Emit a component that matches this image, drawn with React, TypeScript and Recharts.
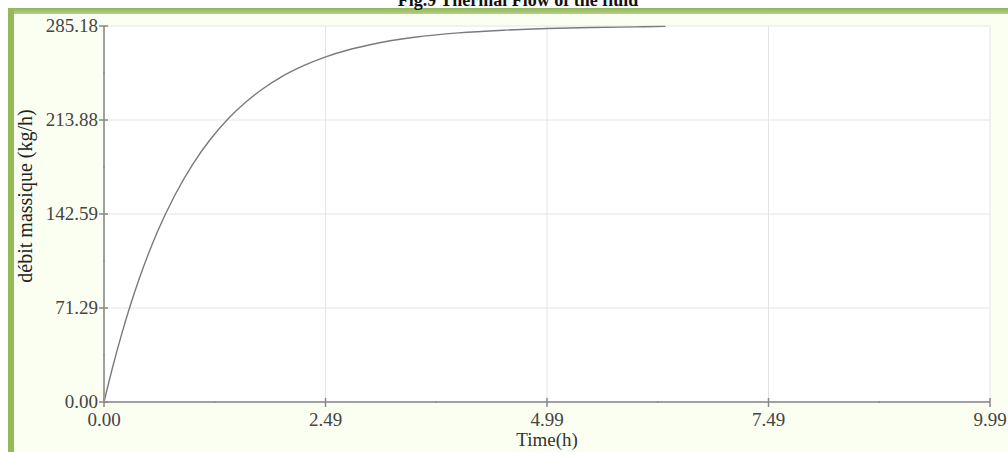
import React from 'react';
import { LineChart, Line, XAxis, YAxis, CartesianGrid } from 'recharts';

// time in hours, mass flow in kg/h
const times = [0, 0.1, 0.2, 0.3, 0.4, 0.5, 0.6, 0.8, 1.0, 1.2, 1.4, 1.6, 1.8, 2.0, 2.25, 2.5, 2.75, 3.0, 3.5, 4.0, 4.5, 5.0, 5.5, 6.0, 6.33];
const flow = [0, 27.1, 51.7, 73.9, 94.0, 112.2, 128.7, 157.0, 180.3, 199.3, 214.9, 227.6, 238.0, 246.6, 255.1, 261.8, 267.0, 271.0, 276.6, 280.0, 282.0, 283.3, 284.0, 284.5, 284.9];

const xMajor = [0, 2.4975, 4.995, 7.4925, 9.99];
const xLabels = ['0.00', '2.49', '4.99', '7.49', '9.99'];
const xMinor = [0, 1.24875, 2.4975, 3.74625, 4.995, 6.24375, 7.4925, 8.74125, 9.99];

const yMajor = [0, 71.295, 142.59, 213.885, 285.18];
const yLabels = ['0.00', '71.29', '142.59', '213.88', '285.18'];
const yMinor = [0, 35.6475, 71.295, 106.9425, 142.59, 178.2375, 213.885, 249.5325, 285.18];

const data = times.map((t, i) => ({ t, v: flow[i] }));

const FONT = '"Liberation Serif", "DejaVu Serif", serif';

const XTick = (props: any) => {
  const { x, y, index } = props;
  const major = index % 2 === 0;
  return (
    <g>
      <line x1={x} x2={x} y1={y - (major ? 4 : 1)} y2={y + (major ? 5 : 1)} stroke="#888" strokeWidth={major ? 1.5 : 1} />
      {major && (
        <text x={x} y={y + 24} textAnchor="middle" fontFamily={FONT} fontSize={19} fill="#444">
          {xLabels[index / 2]}
        </text>
      )}
    </g>
  );
};

const YTick = (props: any) => {
  const { x, y, index } = props;
  const major = index % 2 === 0;
  return (
    <g>
      <line x1={x - (major ? 5 : 1)} x2={x + (major ? 4 : 1)} y1={y} y2={y} stroke="#888" strokeWidth={major ? 1.5 : 1} />
      {major && (
        <text x={x - 6} y={y + 6} textAnchor="end" fontFamily={FONT} fontSize={19} fill="#444">
          {yLabels[index / 2]}
        </text>
      )}
    </g>
  );
};

export default function App() {
  return (
    <div style={{ position: 'absolute', left: 0, top: 0, width: 1008, height: 452, background: '#fff', overflow: 'hidden' }}>
      <div style={{ position: 'absolute', left: 8, top: 8, right: 0, bottom: 0, background: '#fbfff1' }} />
      <div style={{ position: 'absolute', left: 8, top: 8, right: 0, height: 6, background: 'linear-gradient(#8fb65a, #b3cf86)' }} />
      <div style={{ position: 'absolute', left: 8, top: 8, width: 6, bottom: 0, background: '#93bb5a' }} />
      <div
        style={{
          position: 'absolute',
          left: 0,
          width: 1008,
          top: -9,
          textAlign: 'center',
          paddingLeft: 14,
          fontFamily: FONT,
          fontWeight: 'bold',
          fontSize: 18,
          lineHeight: '18px',
          color: '#111',
        }}
      >
        Fig.9 Thermal Flow of the fluid
      </div>
      <div style={{ position: 'absolute', left: 0, top: 0 }}>
        <LineChart width={1008} height={452} data={data} margin={{ top: 26, right: 18, bottom: 0, left: 0 }}>
          <CartesianGrid
            stroke="#e4e4e4"
            fill="#ffffff"
            horizontalValues={yMajor}
            verticalValues={xMajor}
          />
          <XAxis
            dataKey="t"
            type="number"
            domain={[0, 9.99]}
            ticks={xMinor}
            interval={0}
            height={50}
            tickLine={false}
            tickSize={0}
            tickMargin={0}
            axisLine={{ stroke: '#a0a0a0', strokeWidth: 2 }}
            tick={<XTick />}
            label={{ value: 'Time(h)', position: 'insideBottom', offset: 6, fontFamily: FONT, fontSize: 19, fill: '#333' }}
          />
          <XAxis xAxisId="top" orientation="top" dataKey="t" type="number" domain={[0, 9.99]} height={0} tick={false} tickLine={false} axisLine={{ stroke: '#b5aeae', strokeWidth: 2.5 }} />
          <YAxis
            type="number"
            domain={[0, 285.18]}
            ticks={yMinor}
            interval={0}
            width={104}
            tickLine={false}
            tickSize={0}
            tickMargin={0}
            axisLine={{ stroke: '#a0a0a0', strokeWidth: 2 }}
            tick={<YTick />}
            label={{
              content: () => (
                <text transform="translate(32,196) rotate(-90)" textAnchor="middle" fontFamily={FONT} fontSize={20} fill="#222">
                  débit massique (kg/h)
                </text>
              ),
            }}
          />
          <YAxis yAxisId="right" orientation="right" domain={[0, 285.18]} width={0} tick={false} tickLine={false} axisLine={{ stroke: '#a0a0a0', strokeWidth: 2 }} />
          <Line
            dataKey="v"
            type="monotone"
            stroke="#7a7a7a"
            strokeWidth={1.4}
            dot={false}
            isAnimationActive={false}
          />
        </LineChart>
      </div>
    </div>
  );
}
